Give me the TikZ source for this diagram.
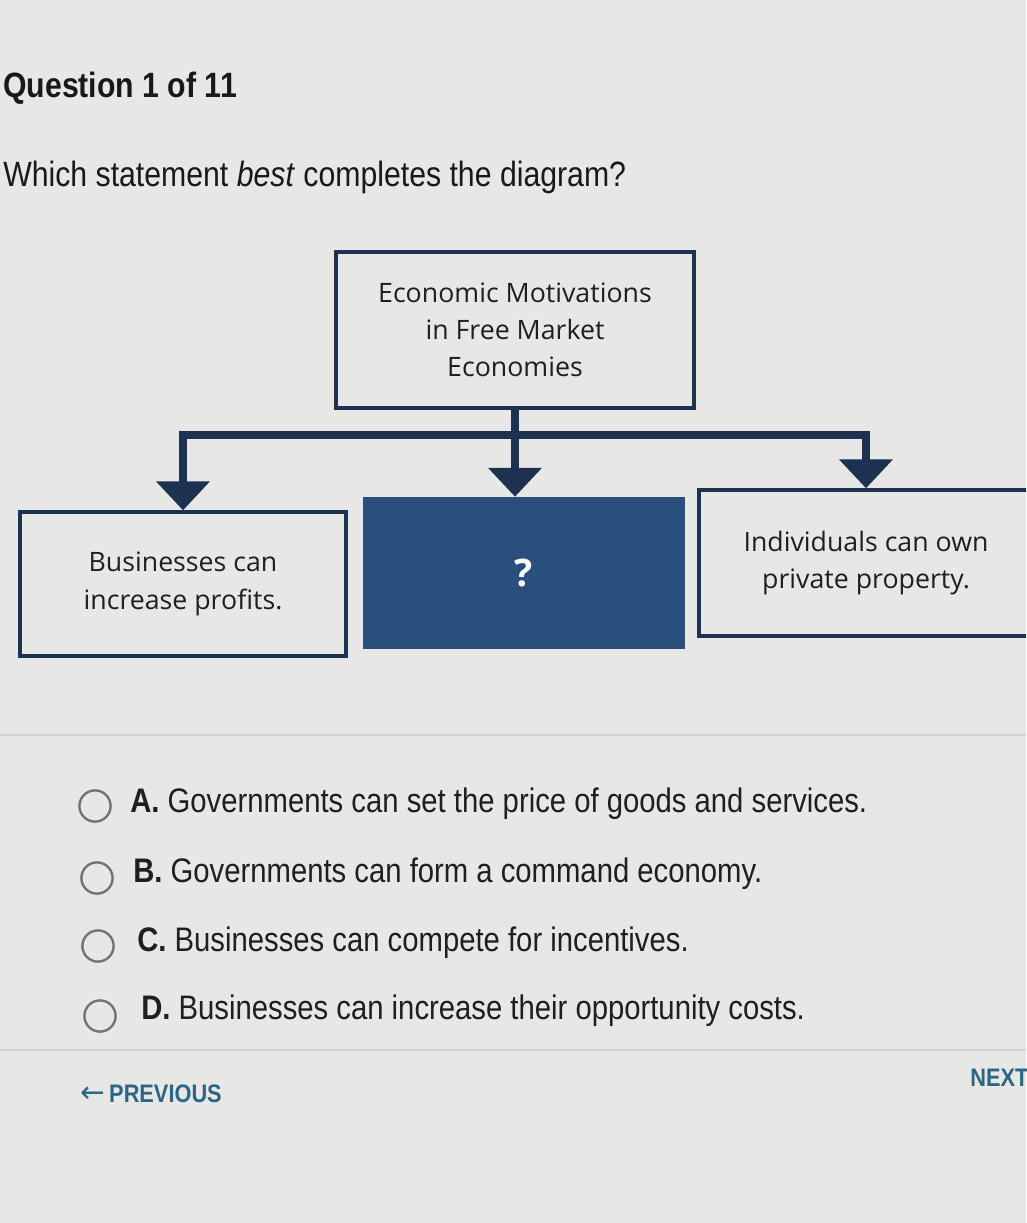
\documentclass[tikz,border=0pt]{standalone}
\usepackage{fontspec}
\setmainfont{Open Sans}
\newfontfamily\qfont[FakeStretch=0.86]{Liberation Sans}
\newfontfamily\symfont{DejaVu Sans}
\usetikzlibrary{arrows.meta}
\definecolor{navy}{HTML}{1D3150}
\definecolor{qblue}{HTML}{2B4F7D}
\definecolor{pagegray}{HTML}{E7E7E5}
\definecolor{navteal}{HTML}{2C6684}
\tikzstyle{wblock} = [rectangle, draw=navy, line width=2.4pt, align=center,
font=\fontsize{19}{26.5}\selectfont, text=black!88]
\tikzstyle{bblock} = [rectangle, fill=qblue, text=white, align=center,
font=\bfseries\fontsize{27}{27}\selectfont]
\tikzstyle{arrow} = [line width=5pt, draw=navy, -{Triangle[width=1.3cm,length=0.72cm]}]
\tikzstyle{choice} = [anchor=base west, inner sep=0pt, text=black!88,
font=\qfont\fontsize{24.2}{24.2}\selectfont]
\tikzstyle{radio} = [circle, draw=black!55, line width=1.7pt, minimum size=0.78cm, inner sep=0pt]
\tikzstyle{navbtn} = [anchor=base west, inner sep=0pt, text=navteal,
font=\qfont\bfseries\fontsize{18}{18}\selectfont]

\begin{document}
\begin{tikzpicture}[x=0.025cm, y=-0.025cm]
	\useasboundingbox (0,0) rectangle (1026,1223);
	\fill[pagegray] (0,0) rectangle (1026,1223);
	\clip (0,0) rectangle (1026,1223);

	% question
	\node (Title) [anchor=base west, inner sep=0pt, text=black!90, font=\qfont\bfseries\fontsize{25}{25}\selectfont] at (3,97) {Question 1 of 11};
	\node (Prompt) [anchor=base west, inner sep=0pt, text=black!90, font=\qfont\fontsize{25}{25}\selectfont] at (3,186) {Which statement \textit{best} completes the diagram?};

	% diagram
	\node (Topic) [wblock, minimum width=8.95cm, minimum height=3.9cm] at (515,330) {Economic Motivations\\in Free Market\\Economies};
	\node (Profits) [wblock, minimum width=8.15cm, minimum height=3.6cm] at (183,584) {Businesses can\\increase profits.};
	\node (Unknown) [bblock, minimum width=8.05cm, minimum height=3.8cm] at (524,573) {?};
	\node (Property) [wblock, minimum width=8.35cm, minimum height=3.65cm] at (866,563) {Individuals can own\\private property.};
	\coordinate (Hub) at (515,435);

	\draw [line width=5pt, navy] (Topic.south) -- (Hub);
	\draw [arrow] (Hub) -| (Profits.north);
	\draw [arrow] (Hub) -- (Hub |- Unknown.north);
	\draw [arrow] (Hub) -| (Property.north);

	% answer choices
	\draw [black!18, line width=0.8pt] (0,735) -- (1026,735);
	\node (RadioA) [radio] at (95,806) {};
	\node (RadioB) [radio] at (97,878) {};
	\node (RadioC) [radio] at (98,946) {};
	\node (RadioD) [radio] at (100,1016) {};
	\node (ChoiceA) [choice] at (130,812) {\textbf{A.}\ Governments can set the price of goods and services.};
	\node (ChoiceB) [choice] at (133,882) {\textbf{B.}\ Governments can form a command economy.};
	\node (ChoiceC) [choice] at (137,951) {\textbf{C.}\ Businesses can compete for incentives.};
	\node (ChoiceD) [choice] at (141,1019) {\textbf{D.}\ Businesses can increase their opportunity costs.};
	\draw [black!18, line width=0.8pt] (0,1050) -- (1026,1050);

	% navigation
	\node (Previous) [navbtn] at (80,1102) {{\symfont\mdseries\fontsize{21}{21}\selectfont ←}\,PREVIOUS};
	\node (Next) [navbtn] at (970,1086) {NEXT};
\end{tikzpicture}
\end{document}
